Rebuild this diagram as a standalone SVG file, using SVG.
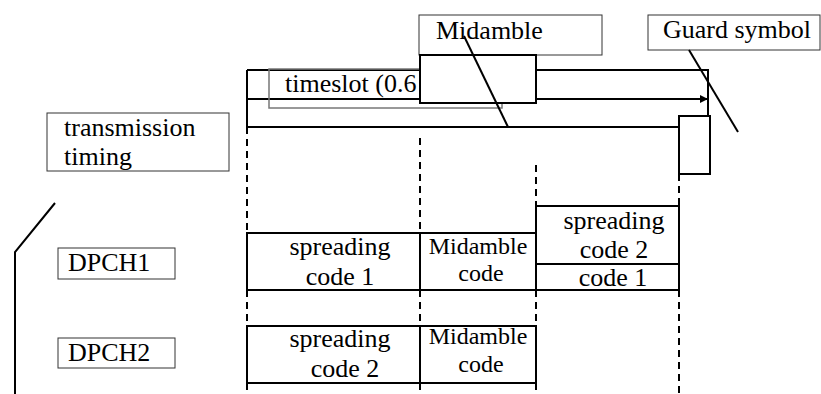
<svg xmlns="http://www.w3.org/2000/svg" width="821" height="394" viewBox="0 0 821 394">
<style>
text{font-family:"Liberation Serif","Times New Roman",serif;fill:#000}
.t26{font-size:26px}
.t24{font-size:24px}
.mid{text-anchor:middle}
.box{fill:#fff;stroke:#000;stroke-width:2}
.lbl{fill:#fff;stroke:#333;stroke-width:1}
.ln{stroke:#000;stroke-width:2;fill:none}
.dash{stroke:#000;stroke-width:2;stroke-dasharray:7 5;fill:none}
</style>
<defs>
<marker id="ah" markerWidth="8" markerHeight="8" refX="8" refY="4" orient="auto" markerUnits="userSpaceOnUse">
<path d="M0,0 L8,4 L0,8 Z" fill="#000"/>
</marker>
</defs>
<g id="connectors">
<path class="dash" d="M247,127 V233 M247,290 V326 M247,383 V394"/>
<path class="dash" d="M420,138 V233 M420,290 V326 M420,383 V394"/>
<path class="dash" d="M536,165 V206 M536,290 V326 M536,383 V394"/>
<path class="dash" d="M679,174 V206 M679,290 V394"/>
<path class="ln" d="M55,203 L15,252 V394"/>
</g>
<g id="timeslot">
<path class="ln" d="M247,70 H708 V116 M247,70 V127 H679"/>
<line class="ln" x1="247" y1="99" x2="708" y2="99" marker-end="url(#ah)"/>
<rect x="269" y="69" width="233" height="39" fill="none" stroke="#777" stroke-width="1.5"/>
<text class="t26" x="285" y="92">timeslot (0.6</text>
</g>
<g id="midamble-label">
<rect class="lbl" x="419" y="15" width="183" height="40"/>
<text class="t26" x="436" y="39">Midamble</text>
</g>
<g id="midamble-box">
<rect class="box" x="420" y="55" width="116" height="48"/>
</g>
<g id="guard-label">
<rect class="lbl" x="648" y="15" width="172" height="35"/>
<text class="t26" x="663" y="38">Guard symbol</text>
</g>
<g id="guard-box">
<rect class="box" x="679" y="116" width="31" height="58"/>
</g>
<g id="pointers">
<line class="ln" x1="464" y1="36" x2="508" y2="127"/>
<line class="ln" x1="689" y1="50" x2="738" y2="132"/>
</g>
<g id="transmission-timing">
<rect class="lbl" x="47" y="113" width="182" height="58"/>
<text class="t26" x="64" y="136">transmission</text>
<text class="t26" x="64" y="165">timing</text>
</g>
<g id="dpch1-label">
<rect class="lbl" x="58" y="248" width="117" height="31"/>
<text class="t26" x="68" y="271">DPCH1</text>
</g>
<g id="dpch2-label">
<rect class="lbl" x="58" y="338" width="117" height="30"/>
<text class="t26" x="68" y="361">DPCH2</text>
</g>
<g id="dpch1-spreading1">
<rect class="box" x="247" y="233" width="173" height="57"/>
<text class="t26 mid" x="340" y="255">spreading</text>
<text class="t26 mid" x="340" y="285">code 1</text>
</g>
<g id="dpch1-midamble">
<rect class="box" x="420" y="233" width="116" height="57"/>
<text class="t24 mid" x="478" y="254">Midamble</text>
<text class="t24 mid" x="481" y="281">code</text>
</g>
<g id="dpch1-spreading2">
<rect class="box" x="536" y="206" width="143" height="58"/>
<text class="t26 mid" x="614" y="229">spreading</text>
<text class="t26 mid" x="614" y="258">code 2</text>
</g>
<g id="dpch1-code1">
<rect class="box" x="536" y="264" width="143" height="26"/>
<text class="t26 mid" x="613" y="286">code 1</text>
</g>
<g id="dpch2-spreading2">
<rect class="box" x="247" y="326" width="173" height="57"/>
<text class="t26 mid" x="340" y="347">spreading</text>
<text class="t26 mid" x="345" y="377">code 2</text>
</g>
<g id="dpch2-midamble">
<rect class="box" x="420" y="326" width="116" height="57"/>
<text class="t24 mid" x="478" y="344">Midamble</text>
<text class="t24 mid" x="481" y="372">code</text>
</g>
</svg>
